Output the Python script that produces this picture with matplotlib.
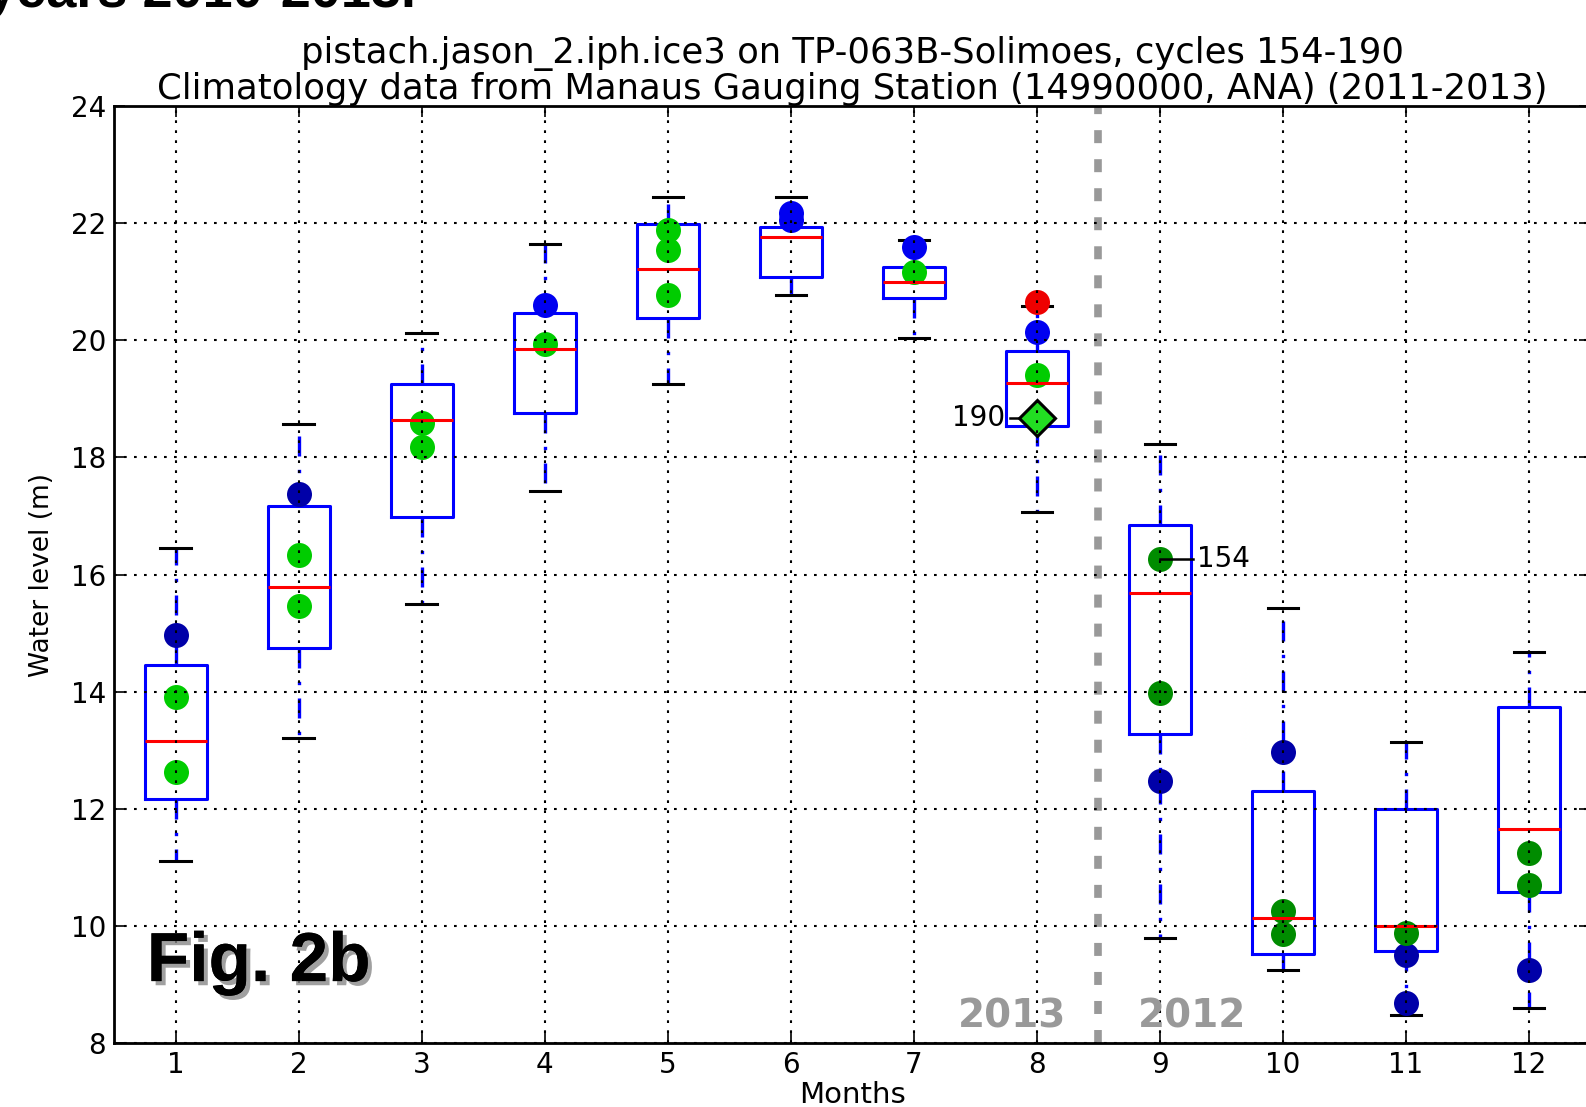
"""Monthly water level box plots with altimetry points for the Solimoes station."""

import matplotlib

matplotlib.use("Agg")

import matplotlib.pyplot as plt
import matplotlib.patheffects as pe

months = [1, 2, 3, 4, 5, 6, 7, 8, 9, 10, 11, 12]

# gauge climatology per month (m)
whisker_low = [11.10, 13.21, 15.50, 17.43, 19.26, 20.78, 20.04, 17.07, 9.79, 9.25, 8.48, 8.60]
q1 = [12.16, 14.75, 16.98, 18.76, 20.39, 21.08, 20.72, 18.54, 13.28, 9.51, 9.57, 10.57]
median = [13.16, 15.79, 18.64, 19.85, 21.22, 21.77, 20.99, 19.28, 15.69, 10.14, 10.00, 11.66]
q3 = [14.46, 17.17, 19.25, 20.46, 21.98, 21.94, 21.25, 19.82, 16.84, 12.31, 11.99, 13.73]
whisker_high = [16.46, 18.57, 20.13, 21.65, 22.44, 22.44, 21.72, 20.58, 18.23, 15.43, 13.14, 14.67]

# altimetry points, grouped by marker colour
navy_months = [1, 2, 9, 10, 11, 11, 12]
navy_levels = [14.96, 17.38, 12.47, 12.97, 9.50, 8.68, 9.24]
blue_months = [4, 6, 6, 7, 8]
blue_levels = [20.60, 22.18, 22.05, 21.60, 20.15]
green_months = [1, 1, 2, 2, 3, 3, 4, 5, 5, 5, 7, 8]
green_levels = [13.90, 12.63, 16.34, 15.46, 18.59, 18.17, 19.94, 21.89, 21.55, 20.77, 21.17, 19.40]
dkgreen_months = [9, 9, 10, 10, 11, 12, 12]
dkgreen_levels = [16.27, 13.97, 10.26, 9.86, 9.88, 11.24, 10.69]
red_months = [8]
red_levels = [20.66]

last_cycle = 190
last_month = 8
last_level = 18.68
first_cycle = 154
first_month = 9
first_level = 16.27

fig = plt.figure(figsize=(15.86, 11.07), dpi=100)
ax = fig.add_axes([0.0721, 0.0579, 0.9307, 0.8462])

stats = []
for i in range(len(months)):
    stats.append({
        "med": median[i], "q1": q1[i], "q3": q3[i],
        "whislo": whisker_low[i], "whishi": whisker_high[i], "fliers": [],
    })

ax.bxp(
    stats, positions=months, widths=0.5, showfliers=False,
    boxprops=dict(color="blue", linewidth=2.2),
    whiskerprops=dict(color="blue", linewidth=2.4, linestyle=(0, (6, 4, 1, 4))),
    capprops=dict(color="black", linewidth=2.2),
    medianprops=dict(color="red", linewidth=2.2),
)

dot = dict(linestyle="none", marker="o", markersize=18, markeredgewidth=0)
ax.plot(navy_months, navy_levels, color="#0000a8", **dot)
ax.plot(blue_months, blue_levels, color="#0000f0", **dot)
ax.plot(green_months, green_levels, color="#00cc00", **dot)
ax.plot(dkgreen_months, dkgreen_levels, color="#008c00", **dot)
ax.plot(red_months, red_levels, color="#ee0000", **dot)

ax.plot([last_month - 0.22, last_month], [last_level, last_level], color="black", lw=1.8)
ax.plot([last_month], [last_level], linestyle="none", marker="D", markersize=18,
        markerfacecolor="#22dd22", markeredgecolor="black", markeredgewidth=2.2)
ax.text(last_month - 0.26, last_level, str(last_cycle), fontsize=20,
        ha="right", va="center")
ax.plot([first_month, first_month + 0.27], [first_level, first_level], color="black", lw=1.8)
ax.text(first_month + 0.3, first_level, str(first_cycle), fontsize=20,
        ha="left", va="center")

# split between the two hydrological years
ax.axvline(8.5, color="#999999", linewidth=5.5, linestyle=(0, (1.7, 2.1)))
ax.text(7.8, 8.27, "2013", fontsize=28, fontweight="bold", color="#999999", ha="center")
ax.text(9.26, 8.27, "2012", fontsize=28, fontweight="bold", color="#999999", ha="center")

ax.text(0.022, 0.066, "Fig. 2b", transform=ax.transAxes, fontsize=50,
        fontweight="bold", family="Liberation Sans",
        path_effects=[pe.withSimplePatchShadow(offset=(3, -3), shadow_rgbFace="#888888", alpha=0.8),
                      pe.Normal()])

ax.set_xlim(0.5, 12.5)
ax.set_ylim(8, 24)
ax.set_xticks(months)
ax.set_xticklabels([str(m) for m in months])
ax.set_yticks(range(8, 25, 2))
ax.tick_params(direction="in", length=8, width=1.2, labelsize=20, pad=6,
               top=True, right=True)
ax.grid(True, color="black", linestyle=(0, (1.3, 3.5)), linewidth=1.5)
ax.set_axisbelow(False)
for spine in ax.spines.values():
    spine.set_linewidth(2)

ax.set_xlabel("Months", fontsize=21, labelpad=1)
ax.set_ylabel("Water level (m)", fontsize=19, labelpad=11)
ax.set_title("pistach.jason_2.iph.ice3 on TP-063B-Solimoes, cycles 154-190\n"
             "Climatology data from Manaus Gauging Station (14990000, ANA) (2011-2013)",
             fontsize=25.5, pad=5, linespacing=1.05)

fig.text(0.262, 0.9935, "years 2010-2013.", fontsize=39, fontweight="bold",
         family="Liberation Sans", ha="right", va="baseline")

fig.savefig("out.png", dpi=100)
plt.close(fig)
